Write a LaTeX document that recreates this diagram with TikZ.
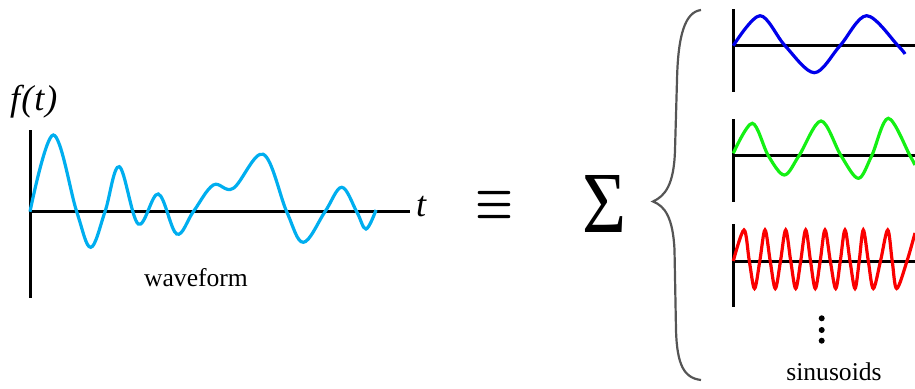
\documentclass[tikz,border=0pt]{standalone}
\usepackage{fontspec}
\setmainfont{Liberation Serif}
\usepackage{graphicx}
\usepackage{tikz}
\usetikzlibrary{calc}
\definecolor{wavecyan}{RGB}{0,174,239}
\definecolor{sinblue}{RGB}{0,0,235}
\definecolor{singreen}{RGB}{20,240,20}
\definecolor{sinred}{RGB}{250,0,0}
\definecolor{bracegray}{RGB}{85,85,85}

\begin{document}
\begin{tikzpicture}[x=1pt, y=-1pt,
    axis/.style={line width=3pt, black},
    curve/.style={line width=3.2pt},
    txt/.style={inner sep=0pt, font=\fontsize{25.6}{30}\selectfont}]
        \clip (0,0) rectangle (915,388);

        \coordinate (o) at (30,211.7);
        \coordinate (otop) at (30,130);
        \coordinate (obot) at (30,298);
        \coordinate (oend) at (410,211.7);

        \draw[axis] (otop) -- (obot);
        \draw[axis] (o) -- (oend);

        \draw[curve, wavecyan] plot[smooth, tension=0.6] coordinates {(30,211.7) (53.3,135) (76.7,211.7) (90.7,247.3) (105,211.7) (119.3,166.7) (138.3,224) (158.3,194) (176.7,234) (193.3,211.7) (213.3,185) (233.3,188.3) (263.3,154.3) (286.7,211.7) (303.3,242.3) (325,211.7) (341.7,187.3) (356.7,211.7) (366,229) (376,210)};

        \node[txt, anchor=base west, font=\fontsize{36}{40}\selectfont\itshape\addfontfeature{LetterSpace=3}] (ftlabel) at (10,110.5) {f(t)};
        \node[txt, anchor=base west, font=\fontsize{36}{40}\selectfont\itshape] (tlabel) at (416,216) {t};
        \node[txt, anchor=base] (wavelabel) at (196,286) {waveform};

        \node[inner sep=0pt] (equiv) at (494,205.5) {\resizebox{38pt}{27pt}{\boldmath$\equiv$}};
        \node[inner sep=0pt] (sumsign) at (604,203.5) {\resizebox{44pt}{57pt}{Σ}};

        \draw[bracegray, line width=2.2pt] (701,10) .. controls (685,12) and (678,35) .. (677,80) -- (675,150) .. controls (674,185) and (665,196) .. (653,201.5) .. controls (665,206) and (673,218) .. (674.5,250) -- (676,330) .. controls (677,365) and (684,378) .. (701,380);

        \foreach \ay [count=\i] in {45.7,155.7,261}{
            \coordinate (s\i) at (733.3,\ay);
            \draw[axis] ($(s\i)+(0,-36.7)$) -- ($(s\i)+(0,46.3)$);
            \draw[axis] (s\i) -- ($(s\i)+(185,0)$);
        }

        \draw[curve, sinblue] plot[smooth, tension=0.55] coordinates {(733.3,45.7) (760,15.7) (785,45.7) (814.3,72.7) (840,45.7) (866.7,15.7) (898,45.7) (905,54)};
        \draw[curve, singreen] plot[smooth, tension=0.55] coordinates {(733.3,153.3) (752.3,123.3) (768.3,155.7) (784.3,175) (799,155.7) (821,121) (841,155.7) (858.3,178.3) (871.7,155.7) (888.3,118.3) (910,155.7) (915,165)};
        \draw[curve, sinred] plot[smooth, tension=0.55] coordinates {(733.3,261) (744,230) (749.3,261) (754.5,288.5) (759.8,261) (765,230) (770.2,261) (775.3,288.5) (780.5,261) (785.7,230) (790.7,261) (795.7,288.5) (800.7,261) (805.7,230) (810.5,261) (815.3,288.5) (820.2,261) (825,230) (830.3,261) (835.7,288.5) (840.3,261) (845,230) (850,261) (855,288.5) (859.2,261) (863.3,230) (868.3,261) (873.3,288.5) (880.5,261) (887.7,230) (892.2,261) (896.7,288.5) (907,261) (915,233)};

        \foreach \dy in {318.3,330,340.7}
            \fill (821.7,\dy) circle (3pt);

        \node[txt, anchor=base] (sinlabel) at (834,380) {sinusoids};
    \end{tikzpicture}
\end{document}
